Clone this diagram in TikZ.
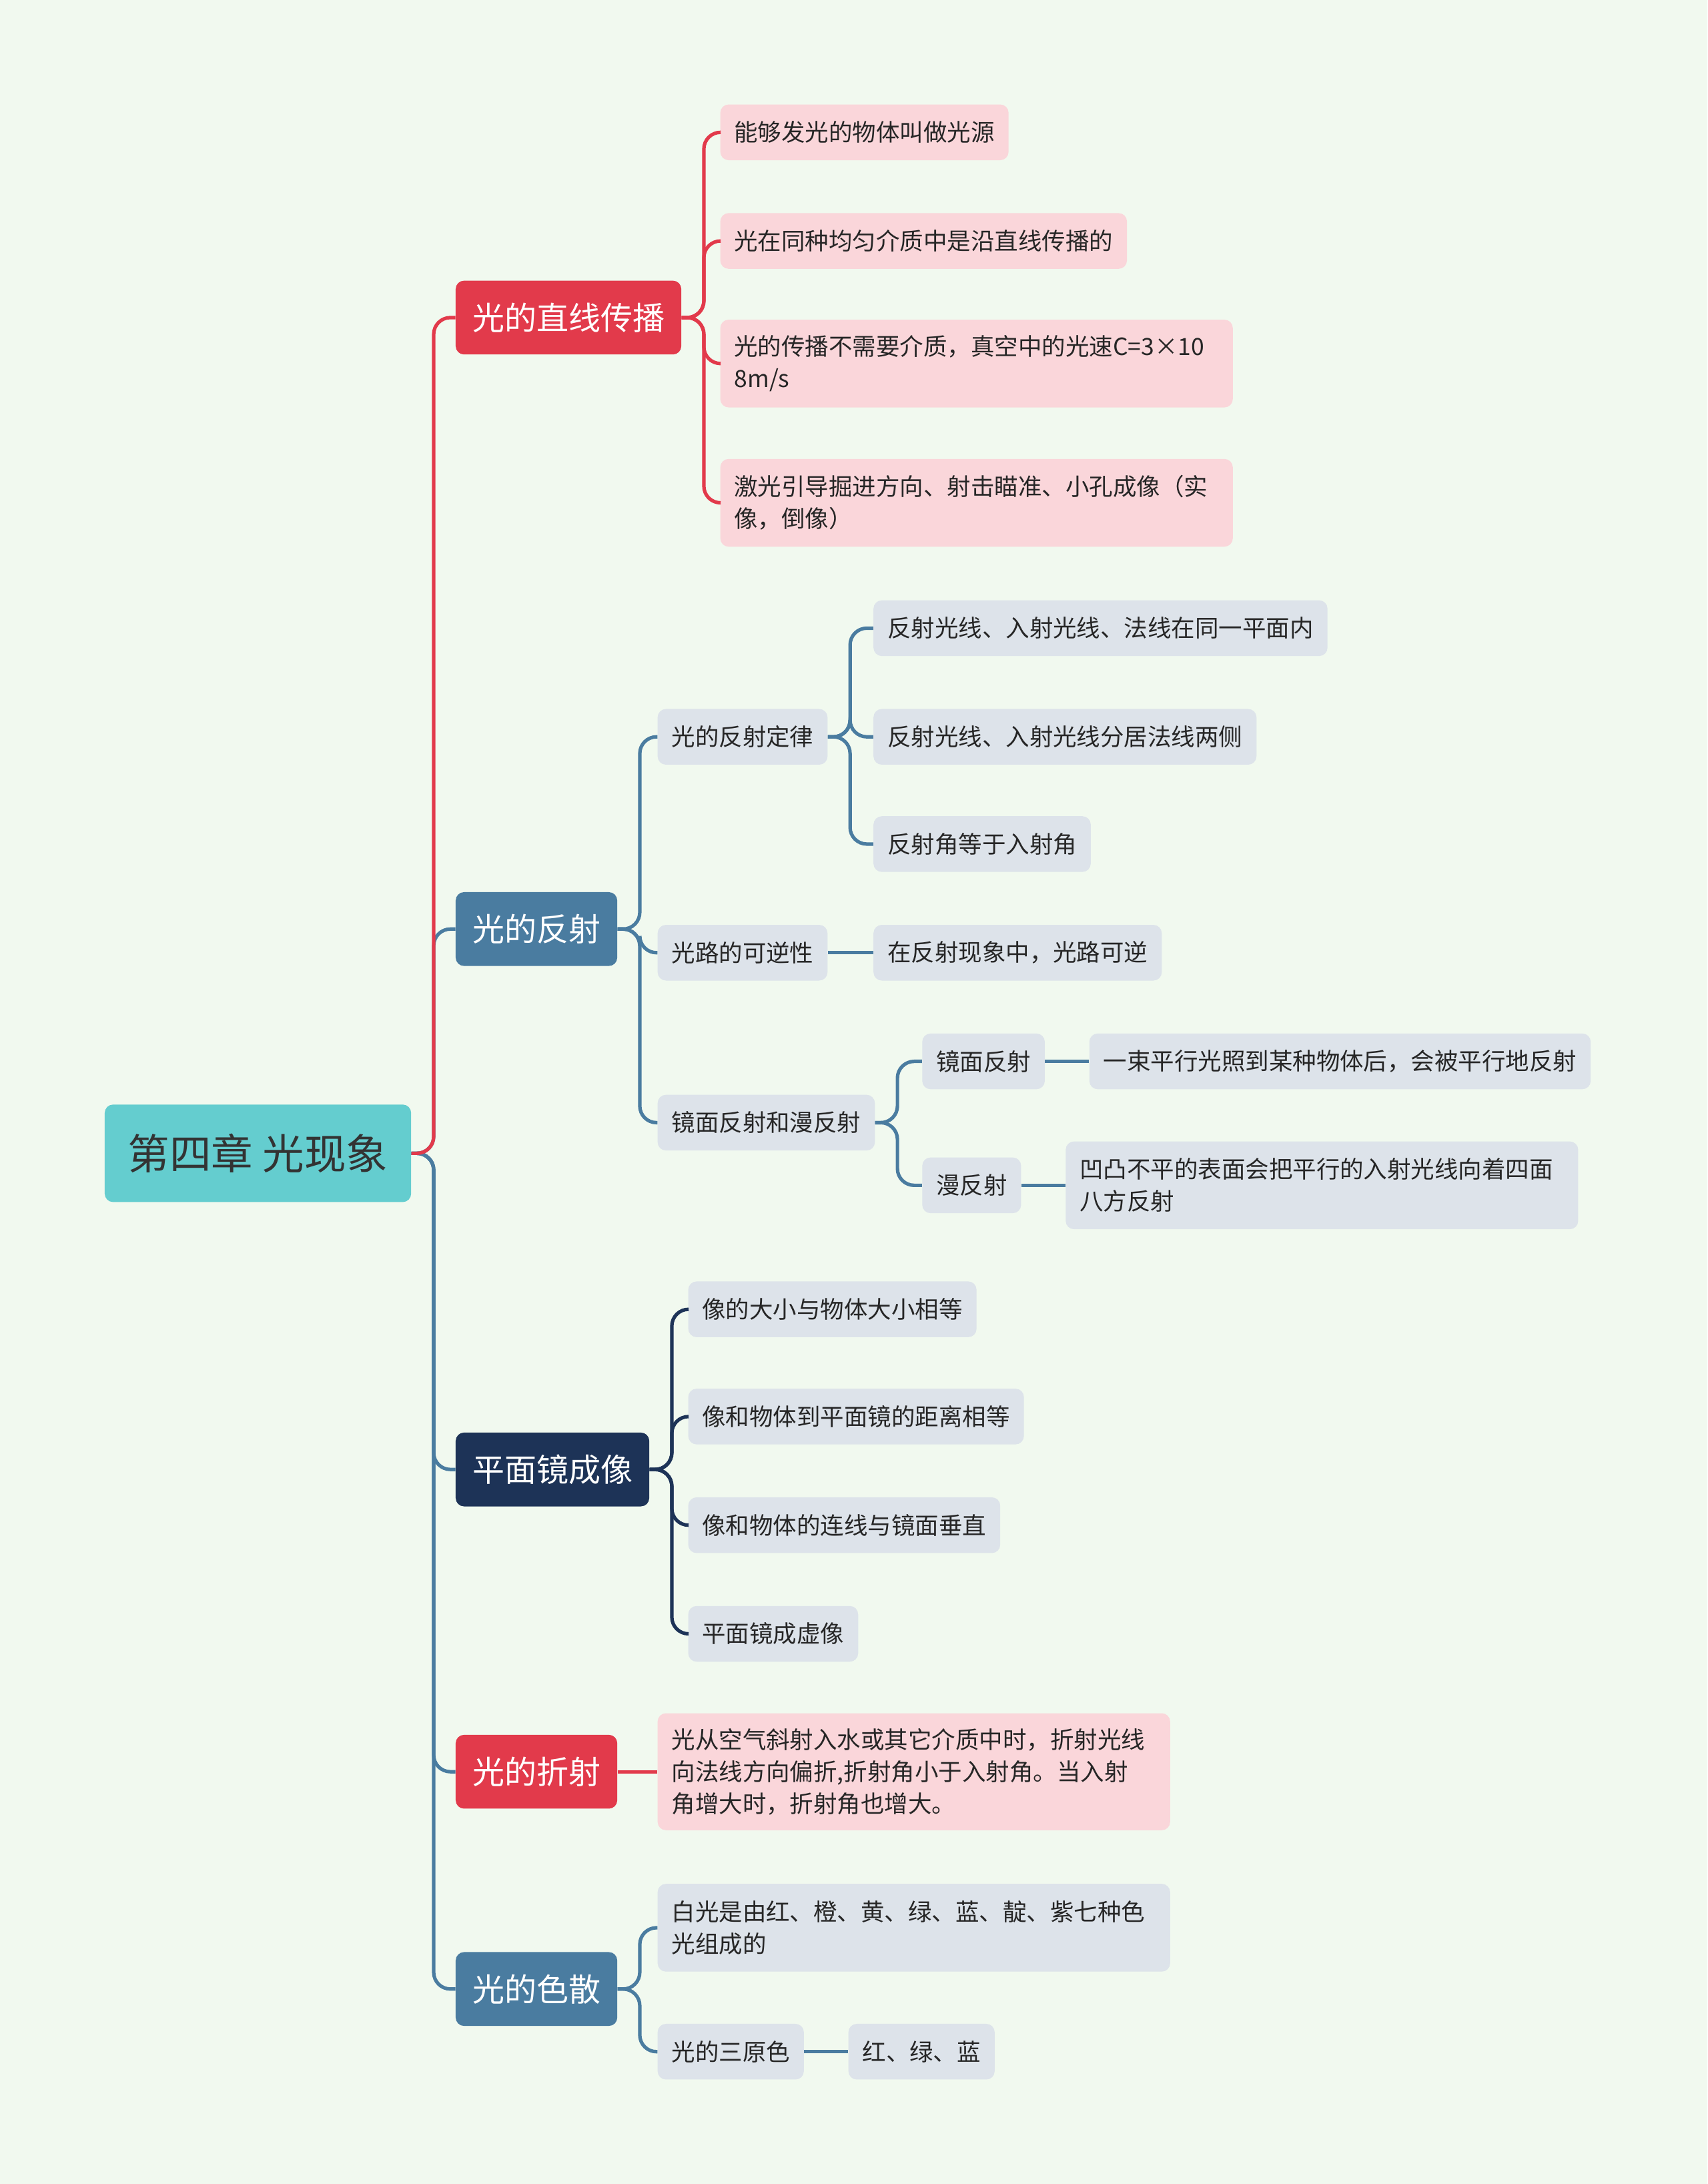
\documentclass[tikz,border=0pt]{standalone}
\usepackage{fontspec}
\setmainfont{Noto Sans CJK SC}
\begin{document}
\begin{tikzpicture}[x=1pt,y=-1pt,
 base/.style={rounded corners=6pt,inner xsep=10pt,inner ysep=0pt,minimum height=40pt,anchor=west,font=\fontsize{17}{23}\selectfont,align=left},
 leafR/.style={base,fill=lred,text=black!85},
 leafB/.style={base,fill=lblue,text=black!85},
 Lone/.style={rounded corners=6pt,inner xsep=12pt,minimum height=53pt,anchor=west,text=white,font=\fontsize{23}{28}\selectfont},
 cR/.style={draw=cred,line width=2.5pt,rounded corners=12pt},
 cB/.style={draw=cblue,line width=2.5pt,rounded corners=12pt},
 cN/.style={draw=cnavy,line width=2.5pt,rounded corners=12pt}]
\definecolor{bg}{HTML}{F1F9EF}
\definecolor{lred}{HTML}{FAD6DA}
\definecolor{lblue}{HTML}{DDE3EA}
\definecolor{cred}{HTML}{E23A4B}
\definecolor{cblue}{HTML}{4A7CA0}
\definecolor{cnavy}{HTML}{1D3357}
\definecolor{teal}{HTML}{64CDCF}
\fill[bg] (0,0) rectangle (1226,1568);
\useasboundingbox (0,0) rectangle (1226,1568);
\node[rounded corners=6pt,fill=teal,minimum width=220pt,minimum height=70pt,anchor=west,text=black!80,font=\fontsize{30}{36}\selectfont] (root) at (75,828) {第四章 光现象};
\node[Lone,fill=cred] (A) at (327,228) {光的直线传播};
\node[Lone,fill=cblue] (B) at (327,667) {光的反射};
\node[Lone,fill=cnavy] (C) at (327,1055) {平面镜成像};
\node[Lone,fill=cred] (D) at (327,1272) {光的折射};
\node[Lone,fill=cblue] (E) at (327,1428) {光的色散};
\foreach \n in {B,C,D,E} \draw[cB] (root.east) -- ++(16,0) |- (\n.west);
\draw[cR] (root.east) -- ++(16,0) |- (A.west);
% A leaves
\node[leafR] (a1) at (517,95) {能够发光的物体叫做光源};
\node[leafR] (a2) at (517,173) {光在同种均匀介质中是沿直线传播的};
\node[leafR,text width=348pt,minimum height=63pt] (a3) at (517,261) {光的传播不需要介质，真空中的光速C=3×10\\8m/s};
\node[leafR,text width=348pt,minimum height=63pt] (a4) at (517,361) {激光引导掘进方向、射击瞄准、小孔成像（实\\像，倒像）};
\foreach \n in {a1,a2,a3,a4} \draw[cR] (A.east) -- ++(16,0) |- (\n.west);
% B
\node[leafB] (b1) at (472,529) {光的反射定律};
\node[leafB] (b2) at (472,684) {光路的可逆性};
\node[leafB] (b3) at (472,806) {镜面反射和漫反射};
\foreach \n in {b1,b2,b3} \draw[cB] (B.east) -- ++(16,0) |- (\n.west);
\node[leafB] (b11) at (627,451) {反射光线、入射光线、法线在同一平面内};
\node[leafB] (b12) at (627,529) {反射光线、入射光线分居法线两侧};
\node[leafB] (b13) at (627,606) {反射角等于入射角};
\foreach \n in {b11,b12,b13} \draw[cB] (b1.east) -- ++(16,0) |- (\n.west);
\node[leafB] (b21) at (627,684) {在反射现象中，光路可逆};
\draw[cB] (b2.east) -- (b21.west);
\node[leafB] (b31) at (662,762) {镜面反射};
\node[leafB] (b32) at (662,851) {漫反射};
\foreach \n in {b31,b32} \draw[cB] (b3.east) -- ++(16,0) |- (\n.west);
\node[leafB] (b311) at (782,762) {一束平行光照到某种物体后，会被平行地反射};
\draw[cB] (b31.east) -- (b311.west);
\node[leafB,text width=348pt,minimum height=63pt] (b321) at (765,851) {凹凸不平的表面会把平行的入射光线向着四面\\八方反射};
\draw[cB] (b32.east) -- (b321.west);
% C
\node[leafB] (c1) at (494,940) {像的大小与物体大小相等};
\node[leafB] (c2) at (494,1017) {像和物体到平面镜的距离相等};
\node[leafB] (c3) at (494,1095) {像和物体的连线与镜面垂直};
\node[leafB] (c4) at (494,1173) {平面镜成虚像};
\foreach \n in {c1,c2,c3,c4} \draw[cN] (C.east) -- ++(16,0) |- (\n.west);
% D
\node[leafR,text width=348pt,minimum height=84pt] (d1) at (472,1272) {光从空气斜射入水或其它介质中时，折射光线\\向法线方向偏折,折射角小于入射角。当入射\\角增大时，折射角也增大。};
\draw[cR] (D.east) -- (d1.west);
% E
\node[leafB,text width=348pt,minimum height=63pt] (e1) at (472,1384) {白光是由红、橙、黄、绿、蓝、靛、紫七种色\\光组成的};
\node[leafB] (e2) at (472,1473) {光的三原色};
\foreach \n in {e1,e2} \draw[cB] (E.east) -- ++(16,0) |- (\n.west);
\node[leafB] (e21) at (609,1473) {红、绿、蓝};
\draw[cB] (e2.east) -- (e21.west);
\end{tikzpicture}
\end{document}
